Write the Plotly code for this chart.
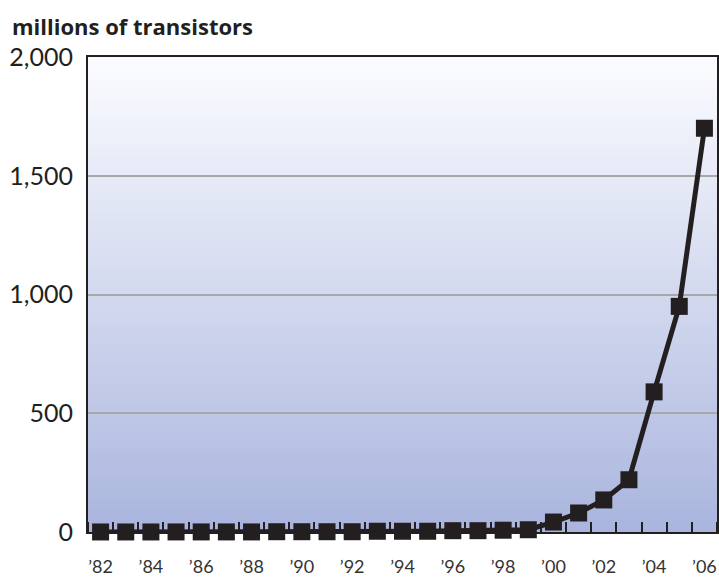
import plotly.graph_objects as go

years = list(range(1982, 2007))
transistors = [0.13, 0.13, 0.13, 0.275, 0.275, 0.275, 0.275, 1.2, 1.2, 1.2,
               1.2, 3.1, 3.1, 3.1, 5.5, 5.5, 7.5, 9.5, 42, 80,
               135, 220, 590, 950, 1700]
x_tick_vals = list(range(1982, 2007, 2))
x_tick_text = ["’" + str(y)[2:] for y in x_tick_vals]
y_tick_vals = [0, 500, 1000, 1500, 2000]
y_tick_text = ["0", "500", "1,000", "1,500", "2,000"]

INK = "#231f20"
FONT = "Lato"

fig = go.Figure()
fig.add_trace(go.Scatter(
    x=years, y=transistors, mode="lines+markers",
    line=dict(color=INK, width=5),
    marker=dict(symbol="square", size=17, color=INK),
    cliponaxis=False, showlegend=False, hoverinfo="x+y",
))

# vertical gradient background
shapes = []
N = 120
top = (251, 252, 255)
bot = (170, 181, 222)
for i in range(N):
    t = i / (N - 1)
    c = tuple(round(bot[k] + (top[k] - bot[k]) * t) for k in range(3))
    shapes.append(dict(
        type="rect", xref="x domain", yref="y domain",
        x0=0, x1=1, y0=i / N, y1=min(1, (i + 1.6) / N),
        fillcolor="rgb(%d,%d,%d)" % c, line=dict(width=0), layer="below",
    ))

fig.update_layout(
    width=719, height=577,
    margin=dict(l=88, r=2, t=57, b=45),
    paper_bgcolor="white", plot_bgcolor="white",
    font=dict(family=FONT, color=INK),
    shapes=shapes,
    annotations=[dict(
        text="<b>millions of transistors</b>", xref="paper", yref="paper",
        x=0, y=1, xanchor="left", yanchor="middle", xshift=-78, yshift=31,
        showarrow=False, font=dict(family="Open Sans", size=22, color=INK),
    )],
)
fig.update_xaxes(
    range=[1981.5, 2006.5], tickvals=x_tick_vals, ticktext=x_tick_text,
    ticks="", showgrid=False, zeroline=False, automargin=False,
    showline=True, mirror=True, linecolor=INK, linewidth=2,
    tickfont=dict(family=FONT, size=18, color="#333333"),
    ticklabelstandoff=17,
    minor=dict(tick0=1981.5, dtick=1, ticks="inside", ticklen=10,
               tickwidth=2, tickcolor=INK, showgrid=False),
)
fig.update_yaxes(
    range=[0, 2000], tickvals=y_tick_vals, ticktext=y_tick_text,
    ticks="", showgrid=True, gridcolor="#a8a8a8", gridwidth=2, zeroline=False,
    showline=True, mirror=True, linecolor=INK, linewidth=2, automargin=False,
    tickfont=dict(family=FONT, size=25, color=INK),
    ticklabelstandoff=8,
)
fig.write_html(
    "out.html",
    config={"displayModeBar": False},
    post_script="document.body.style.margin='0';document.body.style.overflow='hidden';",
)
